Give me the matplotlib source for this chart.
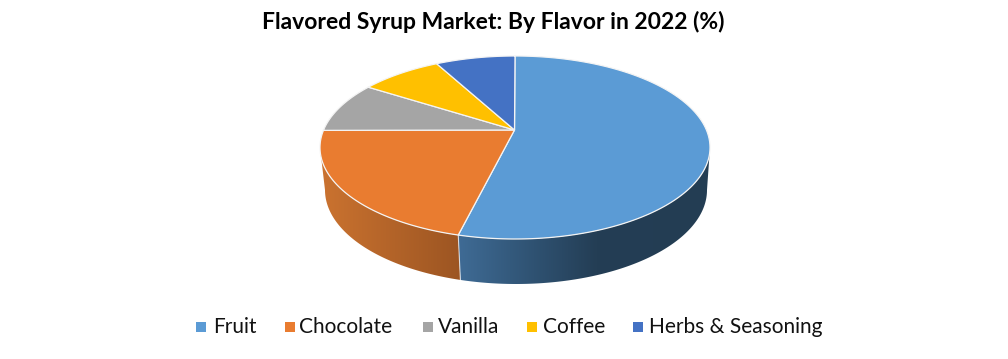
import numpy as np
import matplotlib
matplotlib.use("Agg")
import matplotlib.pyplot as plt
from matplotlib.colors import LinearSegmentedColormap
from matplotlib.patches import Polygon

TITLE = "Flavored Syrup Market: By Flavor in 2022 (%)"
categories = ["Fruit", "Chocolate", "Vanilla", "Coffee", "Herbs & Seasoning"]
values = [54.7, 23.3, 8.45, 6.97, 6.58]
colors = ["#5B9BD5", "#E97C30", "#A5A5A5", "#FFC000", "#4472C4"]
legend_square_x = [196, 285, 423, 527, 633]
legend_text_x = [213, 299, 438, 543, 649]

W, H = 1008, 359
plt.rcParams["font.family"] = ["Lato", "DejaVu Sans"]
fig = plt.figure(figsize=(W / 100, H / 100), dpi=100, facecolor="white")
ax = fig.add_axes([0, 0, 1, 1])
ax.set_xlim(0, W)
ax.set_ylim(H, 0)
ax.axis("off")

# Projected pie geometry, in picture pixels
CX, CY, A, B = 515, 147.5, 195, 91.5
APEX = (514.5, 130)
BCX, BCY, BA, BB = 516, 190, 191, 94


def top(t):
    t = np.asarray(t)
    return np.column_stack([CX + A * np.sin(t), CY - B * np.cos(t)])


def bottom(t):
    t = np.asarray(t)
    return np.column_stack([BCX + BA * np.sin(t), BCY - BB * np.cos(t)])


fractions = np.cumsum([0] + values) / sum(values)
angles = 2 * np.pi * fractions

side_cmaps = {
    0: LinearSegmentedColormap.from_list("fruit", [(0, "#3F6B95"), (0.3, "#2F5272"), (0.55, "#243E55"), (1, "#233D53")]),
    1: LinearSegmentedColormap.from_list("choc", [(0, "#CB7330"), (1, "#9C5522")]),
}
grad = np.linspace(0, 1, 256).reshape(1, -1)

# Visible side walls: only the front half of the pie
for i in (1, 0):
    t0 = max(angles[i], np.pi / 2)
    t1 = min(angles[i + 1], 3 * np.pi / 2)
    t = np.linspace(t0, t1, 200)
    poly_pts = np.vstack([top(t), bottom(t[::-1])])
    xmin, xmax = poly_pts[:, 0].min(), poly_pts[:, 0].max()
    ymin, ymax = poly_pts[:, 1].min(), poly_pts[:, 1].max()
    # Angles run clockwise, so the fruit wall is drawn right to left in t but
    # both walls darken from left to right on the picture
    im = ax.imshow(grad, extent=[xmin, xmax, ymax, ymin], aspect="auto",
                   cmap=side_cmaps[i], zorder=2, interpolation="bilinear")
    clip = Polygon(poly_pts, closed=True, transform=ax.transData, facecolor="none", edgecolor="none")
    ax.add_patch(clip)
    im.set_clip_path(clip)

# White seam between the two walls
seam = angles[1]
ax.plot(*np.vstack([top([seam]), bottom([seam])]).T, color="#FFFFFF", lw=0.8, alpha=0.7, zorder=3)

ax.set_xlim(0, W)
ax.set_ylim(H, 0)

# Top faces
for i, c in enumerate(colors):
    t = np.linspace(angles[i], angles[i + 1], 200)
    pts = np.vstack([[APEX], top(t)])
    ax.add_patch(Polygon(pts, closed=True, facecolor=c, edgecolor="#F4F4F4", lw=0.9, zorder=4, joinstyle="round"))

ax.text(493.5, 21.5, TITLE, ha="center", va="center", fontsize=16.5, fontweight="bold", color="black")

for name, c, sx, tx in zip(categories, colors, legend_square_x, legend_text_x):
    ax.scatter([sx + 4.5], [327], marker="s", s=42, color=c, linewidths=0, zorder=5)
    ax.text(tx, 327, name, ha="left", va="center", fontsize=15.05, color="#111111")

fig.savefig("out.png", dpi=100, facecolor="white")
